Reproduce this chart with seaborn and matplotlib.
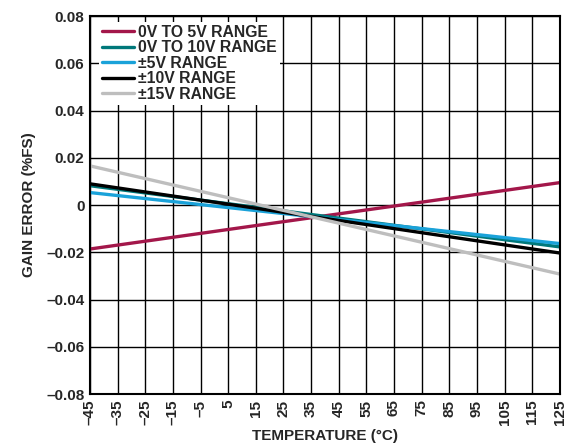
import pandas as pd
import seaborn as sns
import matplotlib.pyplot as plt

# endpoints of each (straight) line
temps = [-45, 125]
series_names = ['0V TO 5V RANGE', '0V TO 10V RANGE', '±5V RANGE', '±10V RANGE', '±15V RANGE']
err_0_5 = [-0.0186, 0.0095]
err_0_10 = [0.0082, -0.0177]
err_pm5 = [0.0053, -0.0163]
err_pm10 = [0.0090, -0.0203]
err_pm15 = [0.0166, -0.0292]
colors = ['#A3174A', '#00787A', '#1AA2D9', '#000000', '#BEBEBE']

x_ticks = list(range(-45, 126, 10))
y_ticks = [-0.08, -0.06, -0.04, -0.02, 0, 0.02, 0.04, 0.06, 0.08]


def fmt_y(v):
    if v == 0:
        return '0'
    s = f'{abs(v):.2f}'
    return ('\u2013' if v < 0 else '') + s


def fmt_x(v):
    return ('\u2013' if v < 0 else '') + str(abs(v))


rows = []
for name, vals in zip(series_names, [err_0_5, err_0_10, err_pm5, err_pm10, err_pm15]):
    for t, v in zip(temps, vals):
        rows.append({'temp': t, 'err': v, 'range': name})
df = pd.DataFrame(rows)

sns.set_theme(style='white')
plt.rcParams['font.family'] = ['Liberation Sans', 'DejaVu Sans']
plt.rcParams['font.weight'] = 'bold'

fig = plt.figure(figsize=(5.88, 4.48), dpi=100)
ax = fig.add_axes([0.153, 0.1205, 0.799, 0.8435])

ax.set_xticks(x_ticks)
ax.set_yticks(y_ticks)
ax.grid(True, color='black', linewidth=1.0)
ax.set_axisbelow(True)

sns.lineplot(data=df, x='temp', y='err', hue='range', hue_order=series_names,
             palette=colors, linewidth=2.4, ax=ax, legend=True)

ax.set_xlim(-45, 125)
ax.set_ylim(-0.08, 0.08)
ax.set_xticklabels([fmt_x(v) for v in x_ticks], rotation=90, fontsize=11, fontweight='bold')
ax.set_yticklabels([fmt_y(v) for v in y_ticks], fontsize=11, fontweight='bold')
ax.tick_params(length=0, pad=4)
ax.set_xlabel('TEMPERATURE (°C)', fontsize=11, fontweight='bold', labelpad=3)
ax.set_ylabel('GAIN ERROR (%FS)', fontsize=11, fontweight='bold', labelpad=7)
for sp in ax.spines.values():
    sp.set_color('black')
    sp.set_linewidth(1.5)

leg = ax.legend(loc='upper left', bbox_to_anchor=(0.008, 1.0), frameon=True, fancybox=False,
                framealpha=1, edgecolor='white', prop={'weight': 'bold', 'size': 11.3},
                handlelength=2.0, handletextpad=0.3, labelspacing=0.03, borderpad=0.2,
                borderaxespad=0.35)
leg.get_frame().set_linewidth(0)

fig.savefig('out.png', dpi=100)
